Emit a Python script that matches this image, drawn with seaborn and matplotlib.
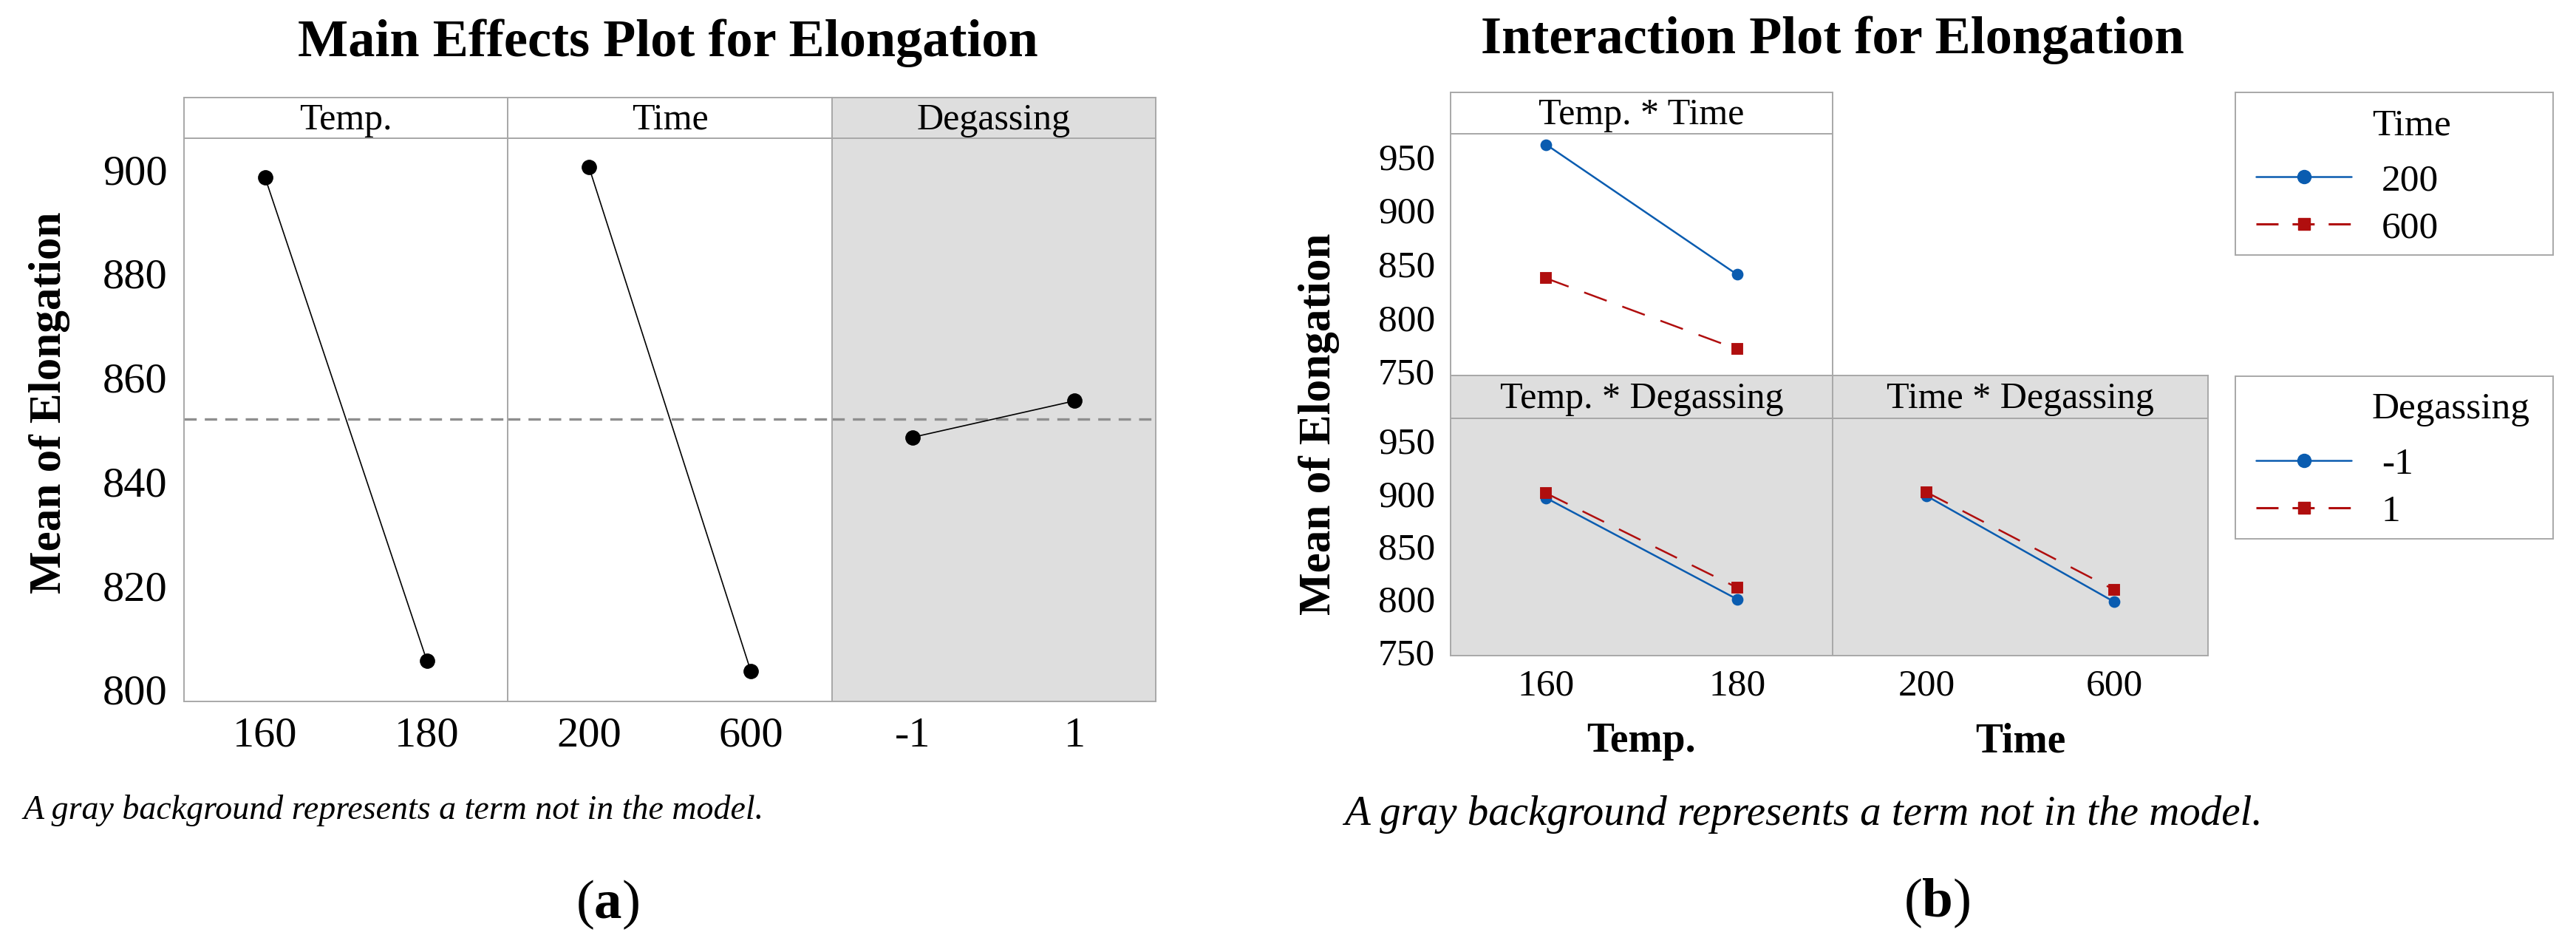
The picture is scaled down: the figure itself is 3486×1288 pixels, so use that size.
import matplotlib
matplotlib.use("Agg")
import matplotlib.pyplot as plt
from matplotlib.lines import Line2D
import seaborn as sns
import numpy as np
import pandas as pd

# factor levels
temp_levels = ["160", "180"]
time_levels = ["200", "600"]
degas_levels = ["-1", "1"]

# main effects means
main_temp = [898.5, 805.5]
main_time = [900.5, 803.5]
main_degas = [848.5, 855.5]

# interaction means
temp_time_200 = [961.0, 840.0]
temp_time_600 = [836.5, 770.5]
temp_degas_m1 = [895.5, 799.5]
temp_degas_p1 = [900.0, 810.5]
time_degas_m1 = [897.5, 797.0]
time_degas_p1 = [901.0, 808.5]

W, H = 3487, 1288
GRAY_BG = "#DEDEDE"
EDGE = "#A8A8A8"
BLUE = "#0A5CB0"
RED = "#B00E0E"
DASH = (0, (13, 9))

sns.set_theme(style="white")
plt.rcParams["font.family"] = ["Liberation Serif", "DejaVu Serif"]
plt.rcParams["mathtext.fontset"] = "custom"
plt.rcParams["mathtext.bf"] = "Liberation Serif:bold"
plt.rcParams["mathtext.rm"] = "Liberation Serif"
plt.rcParams["text.color"] = "black"
plt.rcParams["axes.labelcolor"] = "black"

fig = plt.figure(figsize=(W / 100, H / 100), dpi=100)


def box(x0, y0, x1, y1):
    # pixel box (top-left origin) -> figure fraction rect
    return [x0 / W, 1 - y1 / H, (x1 - x0) / W, (y1 - y0) / H]


def style_axes(ax, gray, tick_size):
    ax.set_facecolor(GRAY_BG if gray else "white")
    for s in ax.spines.values():
        s.set_visible(True)
        s.set_color(EDGE)
        s.set_linewidth(1.4)
    ax.tick_params(axis="both", colors=EDGE, labelcolor="black", length=7,
                   width=1.3, labelsize=tick_size, direction="out")
    ax.set_xlabel("")
    ax.set_ylabel("")


def strip(rect, label, gray, size):
    sax = fig.add_axes(rect)
    sax.set_facecolor(GRAY_BG if gray else "white")
    sax.set_xticks([])
    sax.set_yticks([])
    for s in sax.spines.values():
        s.set_visible(True)
        s.set_color(EDGE)
        s.set_linewidth(1.4)
    sax.text(0.5, 0.45, label, ha="center", va="center", fontsize=size,
             color="black", transform=sax.transAxes)


# ---------------- (a) Main effects ----------------
grand_mean = np.mean(main_temp)
main_panels = [("Temp.", temp_levels, main_temp, False),
               ("Time", time_levels, main_time, False),
               ("Degassing", degas_levels, main_degas, True)]
x_edges = np.linspace(249, 1564, 4)
for i, (name, levels, vals, gray) in enumerate(main_panels):
    ax = fig.add_axes(box(x_edges[i], 187, x_edges[i + 1], 949))
    df = pd.DataFrame({"level": levels, "mean": vals})
    sns.pointplot(data=df, x="level", y="mean", order=levels, color="black",
                  markers="o", markersize=14, linewidth=1.2, errorbar=None, ax=ax)
    ax.axhline(grand_mean, color="#8E8E8E", lw=2.4, ls=(0, (5, 3.3)), zorder=0)
    style_axes(ax, gray, 42)
    ax.set_xlim(-0.5, 1.5)
    ax.set_ylim(797.7, 906)
    ax.set_yticks(np.arange(800, 901, 20))
    ax.tick_params(axis="x", pad=8)
    ax.tick_params(axis="y", pad=9)
    if i > 0:
        ax.tick_params(axis="y", left=False, labelleft=False)
    strip(box(x_edges[i], 132, x_edges[i + 1], 187), name, gray, 36)

fig.text(904 / W, 1 - 58 / H, "Main Effects Plot for Elongation", ha="center",
         va="center", fontsize=52, fontweight="bold")
fig.text(67 / W, 1 - 545 / H, "Mean of Elongation", rotation=90, ha="center",
         va="center", fontsize=44, fontweight="bold")
fig.text(32 / W, 1 - 1097 / H, "A gray background represents a term not in the model.",
         ha="left", va="center", fontsize=33, style="italic")
fig.text(822 / W, 1 - 1224 / H, r"($\mathbf{a}$)", ha="center", va="center", fontsize=54)

# ---------------- (b) Interaction ----------------
inter_panels = [
    ("Temp. * Time", temp_levels, "Temp", time_levels, "Time",
     [temp_time_200, temp_time_600], False, (1963, 181, 2480, 508), (125, 181)),
    ("Temp. * Degassing", temp_levels, "Temp", degas_levels, "Degassing",
     [temp_degas_m1, temp_degas_p1], True, (1963, 566, 2480, 887), (508, 566)),
    ("Time * Degassing", time_levels, "Time", degas_levels, "Degassing",
     [time_degas_m1, time_degas_p1], True, (2480, 566, 2988, 887), (508, 566)),
]
for j, (name, xlev, xname, hlev, hname, series, gray, rect, srect) in enumerate(inter_panels):
    ax = fig.add_axes(box(*rect))
    df = pd.DataFrame({
        xname: xlev * len(hlev),
        hname: np.repeat(hlev, len(xlev)),
        "mean": np.concatenate(series),
    })
    sns.pointplot(data=df, x=xname, y="mean", hue=hname, order=xlev, hue_order=hlev,
                  palette=[BLUE, RED], markers=["o", "s"], linestyles=["-", DASH],
                  markersize=10, linewidth=1.8, errorbar=None, dodge=False,
                  legend=False, ax=ax)
    style_axes(ax, gray, 37)
    ax.set_xlim(-0.5, 1.5)
    ax.set_ylim(746, 971)
    ax.set_yticks(np.arange(750, 951, 50))
    ax.tick_params(axis="x", pad=6)
    ax.tick_params(axis="y", pad=8)
    if j == 0:
        ax.tick_params(axis="x", bottom=False, labelbottom=False)
    if j == 2:
        ax.tick_params(axis="y", left=False, labelleft=False)
    strip(box(rect[0], srect[0], rect[2], srect[1]), name, gray, 36)

fig.text(2480 / W, 1 - 54 / H, "Interaction Plot for Elongation", ha="center",
         va="center", fontsize=52, fontweight="bold")
fig.text(1785 / W, 1 - 574 / H, "Mean of Elongation", rotation=90, ha="center",
         va="center", fontsize=44, fontweight="bold")
fig.text(2221 / W, 1 - 1003 / H, "Temp.", ha="center", va="center",
         fontsize=40, fontweight="bold")
fig.text(2734 / W, 1 - 1003 / H, "Time", ha="center", va="center",
         fontsize=40, fontweight="bold")
fig.text(1819 / W, 1 - 1102 / H, "A gray background represents a term not in the model.",
         ha="left", va="center", fontsize=41, style="italic")
fig.text(2621 / W, 1 - 1222 / H, r"($\mathbf{b}$)", ha="center", va="center", fontsize=54)

# legends
for title, levels, top in [("Time", time_levels, 125), ("Degassing", degas_levels, 509)]:
    lax = fig.add_axes(box(3025, top, 3455, top + 220))
    lax.set_xticks([])
    lax.set_yticks([])
    lax.set_facecolor("white")
    for s in lax.spines.values():
        s.set_visible(True)
        s.set_color(EDGE)
        s.set_linewidth(1.4)
    lax.text(0.43, 1 - 45 / 220, title, ha="left", va="center", fontsize=37,
             transform=lax.transAxes)
    handles = [
        Line2D([], [], color=BLUE, lw=1.8, marker="o", markersize=13),
        Line2D([], [], color=RED, lw=2.2, ls=(0, (9.8, 6.2)), marker="s", markersize=12),
    ]
    lax.legend(handles, levels, loc="upper left", bbox_to_anchor=(0.0, 1 - 68 / 220),
               frameon=False, fontsize=37, handlelength=2.5, handletextpad=0.8,
               labelspacing=0.33, borderaxespad=0.15)

fig.savefig("out.png", dpi=100)
